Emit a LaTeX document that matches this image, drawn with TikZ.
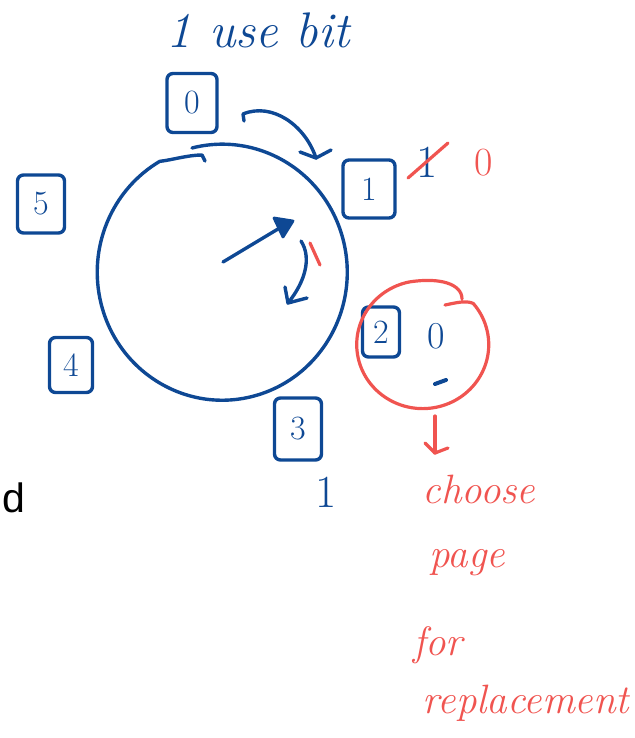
\documentclass[tikz,border=0pt]{standalone}
\usepackage{fontspec}
\newfontfamily\sansd{Liberation Sans}
\definecolor{pen}{RGB}{14,72,148}
\definecolor{rpen}{RGB}{240,84,80}
\begin{document}
\begin{tikzpicture}[x=1pt,y=-1pt,line cap=round,line join=round,
  bluestroke/.style={draw=pen,line width=3.4pt},
  redstroke/.style={draw=rpen,line width=3.2pt},
  frame/.style={draw=pen,line width=3.4pt,rounded corners=6pt,inner sep=0pt,text=pen,
    font=\fontsize{34}{36}\selectfont},
  bluetext/.style={text=pen,inner sep=0pt,font=\fontsize{44}{48}\selectfont\itshape},
  bluedigit/.style={text=pen,inner sep=0pt,font=\fontsize{46}{50}\selectfont},
  redtext/.style={text=rpen,inner sep=0pt,font=\fontsize{41}{44}\selectfont\itshape},
  reddigit/.style={text=rpen,inner sep=0pt,font=\fontsize{40}{44}\selectfont}]
\useasboundingbox (0,0) rectangle (634,738);

% title
\node[bluetext,font=\fontsize{50}{54}\selectfont\itshape] (title) at (258,30) {1 use bit};

% page frames
\node[frame,minimum width=50pt,minimum height=59pt] (f0) at (192,103) {0};
\node[frame,minimum width=52pt,minimum height=58pt] (f1) at (369,189) {1};
\node[frame,minimum width=37pt,minimum height=50pt] (f2) at (381,332) {2};
\node[frame,minimum width=47pt,minimum height=62pt] (f3) at (298,429) {3};
\node[frame,minimum width=43pt,minimum height=55pt] (f4) at (71,365) {4};
\node[frame,minimum width=47pt,minimum height=58pt] (f5) at (41,204) {5};

% clock circle
\draw[bluestroke] (192,148) arc[start angle=256,end angle=600,x radius=125,y radius=128]
  .. controls (172,160) and (188,155) .. (202,155) -- (205,161);

% hand of the clock
\coordinate (hub) at (223,262);
\coordinate (tip) at (283,226);
\draw[bluestroke] (hub) -- (tip);
\filldraw[pen,line width=2.8pt] (274,218) -- (293,221) -- (283,237) -- cycle;

% rotation arrow
\coordinate (r0) at (301,241);
\coordinate (r1) at (288,303);
\draw[bluestroke] (r0) .. controls (312,258) and (305,282) .. (r1);
\draw[bluestroke] (285,287) -- (r1) -- (307,298);
\draw[redstroke] (310,243) -- (320,265);

% arrow from frame 0 to frame 1
\coordinate (t0) at (244,121);
\coordinate (t1) at (316,158);
\draw[bluestroke] (t0) -- (243,114) .. controls (272,102) and (305,125) .. (t1);
\draw[bluestroke] (300,152) -- (t1) -- (331,150);

% use bits
\node[bluedigit] (u1) at (427,162) {1};
\draw[redstroke] (408,178) -- (448,143);
\node[reddigit] (u1new) at (484,163) {0};
\node[bluedigit,font=\fontsize{38}{40}\selectfont] (u2) at (436,336) {0};
\draw[pen,line width=4pt] (435,384) -- (446,380);
\node[bluedigit] (u3) at (326,492) {1};

% red circle around frame 2
\draw[redstroke] (462,299) .. controls (462,284) and (440,277) .. (409,282)
  arc[start angle=258,end angle=-40,x radius=66,y radius=64]
  .. controls (466,300) and (455,303) .. (445,305);

% red arrow and text
\coordinate (d0) at (435,416);
\coordinate (d1) at (435,453);
\draw[redstroke] (d0) -- (d1);
\draw[redstroke] (425,443) -- (d1) -- (448,448);
\node[redtext] (w1) at (479,489) {choose};
\node[redtext] (w2) at (467,563) {page};
\node[redtext] (w3) at (438,645) {for};
\node[redtext] (w4) at (526,703) {replacement};

% printed letter at the left edge
\node[anchor=base west,inner sep=0pt,font=\sansd\fontsize{41}{44}\selectfont] (dd) at (2,512) {d};
\end{tikzpicture}
\end{document}
